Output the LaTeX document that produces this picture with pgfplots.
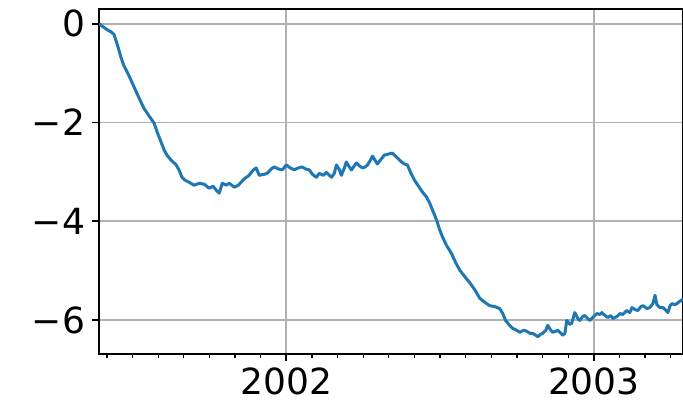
\documentclass[border=0pt]{standalone}
\usepackage{pgfplots}
\pgfplotsset{compat=1.18}
\usepackage{fontspec}
\setmainfont{DejaVu Sans}
\definecolor{mplblue}{HTML}{1F77B4}
\definecolor{gridgray}{HTML}{B0B0B0}
\begin{document}
\begin{tikzpicture}
\begin{axis}[
  scale only axis,
  width=292pt, height=172.5pt,
  xmin=2001.391, xmax=2003.29,
  ymin=-6.69, ymax=0.30,
  xtick={2002,2003}, xticklabels={2002,2003},
  minor xtick={2001.4167,2001.5,2001.5833,2001.6667,2001.75,2001.8333,2001.9167,2002.0833,2002.1667,2002.25,2002.3333,2002.4167,2002.5,2002.5833,2002.6667,2002.75,2002.8333,2002.9167,2003.0833,2003.1667,2003.25},
  ytick={-6,-4,-2,0}, yticklabels={−6,−4,−2,0},
  xtick pos=left, ytick pos=left,
  tick align=outside,
  major tick length=3.5pt, minor tick length=2pt,
  every tick/.style={black, line width=0.8pt},
  minor tick style={black, line width=0.6pt},
  xmajorgrids, ymajorgrids,
  major grid style={gridgray, line width=0.8pt},
  axis line style={black, line width=0.8pt},
  tick label style={font=\fontsize{18}{18}\selectfont},
  /pgf/number format/assume math mode=true,
  clip=true,
]
\addplot[mplblue, line width=1.5pt, line join=round] coordinates {
(2001.391,0.00) (2001.404,-0.06) (2001.417,-0.12) (2001.430,-0.16) (2001.440,-0.22)
(2001.450,-0.41) (2001.463,-0.69) (2001.472,-0.85) (2001.482,-0.97) (2001.495,-1.14)
(2001.505,-1.28) (2001.521,-1.50) (2001.537,-1.71) (2001.554,-1.87) (2001.570,-2.01)
(2001.580,-2.19) (2001.593,-2.40) (2001.603,-2.56) (2001.612,-2.66) (2001.625,-2.76)
(2001.642,-2.86) (2001.651,-2.96) (2001.661,-3.11) (2001.671,-3.17) (2001.684,-3.21)
(2001.700,-3.27) (2001.717,-3.23) (2001.733,-3.25) (2001.749,-3.33) (2001.762,-3.29)
(2001.772,-3.37) (2001.782,-3.43) (2001.792,-3.23) (2001.805,-3.27) (2001.814,-3.23)
(2001.831,-3.31) (2001.844,-3.27) (2001.853,-3.21) (2001.866,-3.13) (2001.879,-3.07)
(2001.893,-2.96) (2001.902,-2.92) (2001.912,-3.07) (2001.928,-3.05) (2001.938,-3.03)
(2001.951,-2.94) (2001.961,-2.90) (2001.974,-2.94) (2001.987,-2.96) (2002.000,-2.86)
(2002.013,-2.92) (2002.026,-2.96) (2002.039,-2.92) (2002.052,-2.90) (2002.062,-2.94)
(2002.075,-2.96) (2002.085,-3.05) (2002.098,-3.11) (2002.107,-3.03) (2002.121,-3.07)
(2002.130,-3.01) (2002.147,-3.11) (2002.156,-3.03) (2002.163,-2.86) (2002.173,-2.96)
(2002.179,-3.07) (2002.189,-2.92) (2002.195,-2.80) (2002.205,-2.90) (2002.212,-2.96)
(2002.221,-2.88) (2002.228,-2.82) (2002.238,-2.88) (2002.248,-2.92) (2002.257,-2.90)
(2002.264,-2.86) (2002.274,-2.76) (2002.280,-2.68) (2002.290,-2.78) (2002.296,-2.84)
(2002.306,-2.76) (2002.319,-2.66) (2002.332,-2.64) (2002.345,-2.62) (2002.355,-2.68)
(2002.362,-2.72) (2002.375,-2.80) (2002.384,-2.84) (2002.394,-2.86) (2002.404,-3.01)
(2002.417,-3.17) (2002.430,-3.29) (2002.443,-3.41) (2002.456,-3.51) (2002.466,-3.63)
(2002.476,-3.78) (2002.489,-3.98) (2002.498,-4.16) (2002.508,-4.32) (2002.521,-4.49)
(2002.537,-4.65) (2002.550,-4.83) (2002.564,-4.99) (2002.580,-5.12) (2002.596,-5.24)
(2002.612,-5.38) (2002.629,-5.56) (2002.645,-5.64) (2002.661,-5.71) (2002.678,-5.73)
(2002.694,-5.77) (2002.704,-5.87) (2002.713,-6.01) (2002.726,-6.11) (2002.736,-6.17)
(2002.749,-6.21) (2002.759,-6.25) (2002.772,-6.21) (2002.782,-6.23) (2002.792,-6.27)
(2002.801,-6.27) (2002.811,-6.31) (2002.818,-6.34) (2002.827,-6.29) (2002.834,-6.27)
(2002.844,-6.21) (2002.850,-6.11) (2002.860,-6.21) (2002.866,-6.25) (2002.876,-6.23)
(2002.883,-6.21) (2002.893,-6.27) (2002.899,-6.31) (2002.906,-6.27) (2002.912,-6.01)
(2002.922,-6.09) (2002.928,-6.07) (2002.938,-5.85) (2002.948,-5.97) (2002.954,-6.01)
(2002.964,-5.93) (2002.971,-5.91) (2002.980,-5.97) (2002.987,-6.01) (2003.000,-5.93)
(2003.010,-5.87) (2003.020,-5.89) (2003.026,-5.85) (2003.036,-5.91) (2003.046,-5.95)
(2003.055,-5.91) (2003.062,-5.97) (2003.075,-5.93) (2003.085,-5.87) (2003.094,-5.89)
(2003.107,-5.81) (2003.117,-5.85) (2003.124,-5.75) (2003.134,-5.79) (2003.143,-5.81)
(2003.153,-5.73) (2003.160,-5.71) (2003.173,-5.77) (2003.182,-5.75) (2003.192,-5.67)
(2003.199,-5.50) (2003.205,-5.69) (2003.215,-5.75) (2003.225,-5.75) (2003.235,-5.81)
(2003.241,-5.85) (2003.248,-5.71) (2003.254,-5.67) (2003.264,-5.69) (2003.270,-5.67)
(2003.280,-5.62) (2003.290,-5.58)
};
\end{axis}
\pgfresetboundingbox
\path[use as bounding box] ([shift={(-49.5pt,-28pt)}]current axis.south west) rectangle ([shift={(0pt,4.5pt)}]current axis.north east);
\end{tikzpicture}
\end{document}
